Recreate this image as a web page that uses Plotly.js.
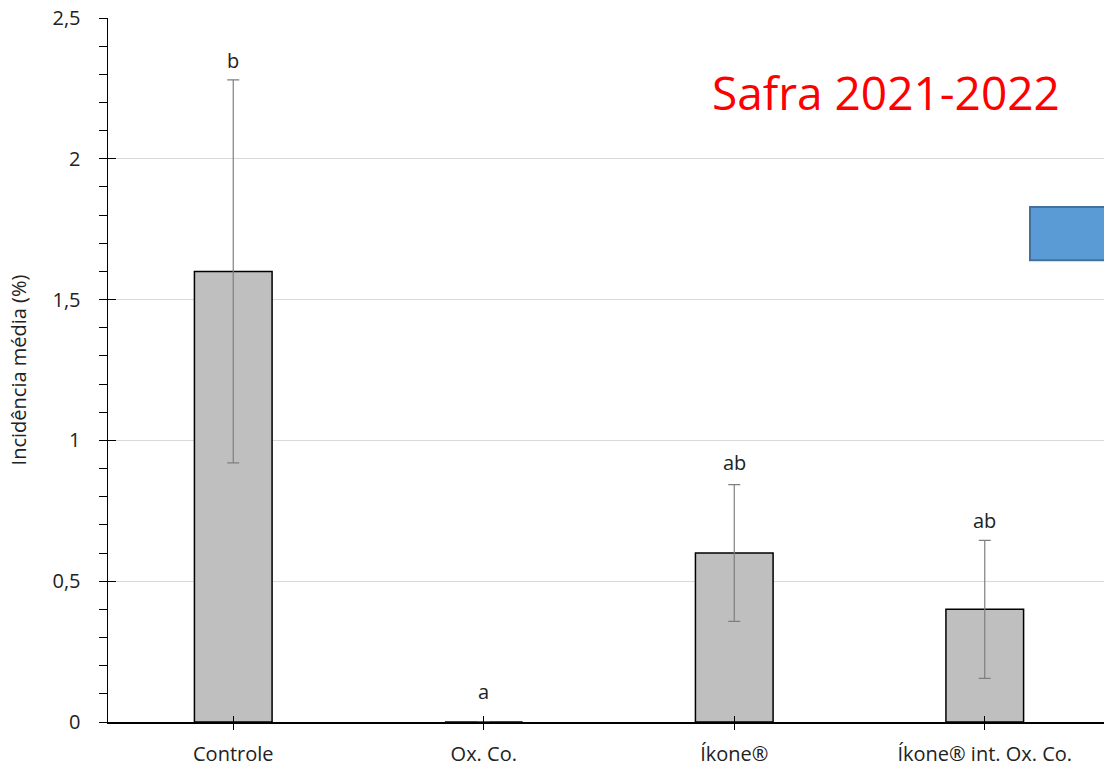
<!DOCTYPE html>
<html>
<head>
<meta charset="utf-8">
<script src="https://cdn.plot.ly/plotly-3.0.1.min.js"></script>
<style>html,body{margin:0;padding:0;background:#fff;}#chart{width:1104px;height:771px;}</style>
</head>
<body>
<div id="chart"></div>
<script>
const categories = ["Controle", "Ox. Co.", "Íkone®", "Íkone® int. Ox. Co."];
const means = [1.6, 0, 0.6, 0.4];
const errors = [0.68, 0, 0.243, 0.245];
const letters = ["b", "a", "ab", "ab"];
const yTicks = [0, 0.5, 1, 1.5, 2, 2.5];

const FONT = "Open Sans, Noto Sans, sans-serif";
const xpos = categories.map((c, i) => i);

const trace = {
  type: "bar",
  x: xpos,
  y: means,
  width: 0.31,
  marker: {color: "#BFBFBF", line: {color: "#000000", width: 1.5}},
  error_y: {type: "data", array: errors, visible: true, color: "#7F7F7F", thickness: 1.2, width: 6},
  hoverinfo: "skip",
  showlegend: false
};

const annotations = letters.map((t, i) => ({
  x: xpos[i], y: means[i] + errors[i], xref: "x", yref: "y",
  text: t, showarrow: false, yanchor: "bottom", yshift: i === 1 ? 15 : (i === 2 ? 7 : 4),
  font: {family: FONT, size: 20, color: "#222"}
}));
annotations.push({
  xref: "paper", yref: "paper", x: 0.781, y: 0.895, xanchor: "center", yanchor: "middle",
  text: "Safra 2021-2022", showarrow: false,
  font: {family: FONT, size: 46, color: "#FF0000"}
});

const layout = {
  width: 1104, height: 771,
  margin: {l: 108, r: 0, t: 18, b: 49},
  paper_bgcolor: "#ffffff", plot_bgcolor: "#ffffff",
  separators: ",.",
  font: {family: FONT, size: 20, color: "#222"},
  xaxis: {
    range: [-0.5, 3.476], tickvals: xpos, ticktext: categories,
    showline: true, linecolor: "#000", linewidth: 1.5,
    ticks: "outside", ticklen: 6, tickcolor: "#000", tickwidth: 1,
    showgrid: false, zeroline: false, ticklabelstandoff: 7,
    tickfont: {family: FONT, size: 20, color: "#222"}, fixedrange: true
  },
  xaxis2: {
    overlaying: "x", anchor: "y", range: [-0.5, 3.476], tickvals: xpos,
    ticks: "inside", ticklen: 6, tickcolor: "#000", tickwidth: 1,
    showticklabels: false, showgrid: false, zeroline: false, showline: false
  },
  yaxis: {
    range: [0, 2.5], tickvals: yTicks,
    showline: true, linecolor: "#000", linewidth: 1.5,
    ticks: "outside", ticklen: 8, tickcolor: "#000", tickwidth: 1,
    minor: {dtick: 0.1, ticks: "outside", ticklen: 8, tickcolor: "#000", showgrid: false},
    showgrid: true, gridcolor: "#D9D9D9", gridwidth: 1, zeroline: false,
    ticklabelstandoff: 14,
    tickfont: {family: FONT, size: 20, color: "#222"},
    title: {text: "Incidência média (%)", font: {family: FONT, size: 20, color: "#222"}, standoff: 20}
  },
  yaxis2: {
    overlaying: "y", anchor: "x", side: "left", range: [0, 2.5], tickvals: yTicks,
    ticks: "inside", ticklen: 8, tickcolor: "#000", tickwidth: 1,
    showticklabels: false, showgrid: false, zeroline: false, showline: false
  },
  shapes: [{
    type: "rect", xref: "paper", yref: "paper",
    x0: 0.9257, x1: 1.02, y0: 0.656, y1: 0.7315,
    fillcolor: "#5B9BD5", line: {color: "#41719C", width: 2}
  }],
  annotations: annotations,
  showlegend: false
};

const dummy = {type: "scatter", x: [0], y: [0], xaxis: "x2", yaxis: "y2", mode: "markers",
  marker: {opacity: 0}, hoverinfo: "skip", showlegend: false};

Plotly.newPlot("chart", [trace, dummy], layout, {displayModeBar: false, staticPlot: true});
</script>
</body>
</html>
